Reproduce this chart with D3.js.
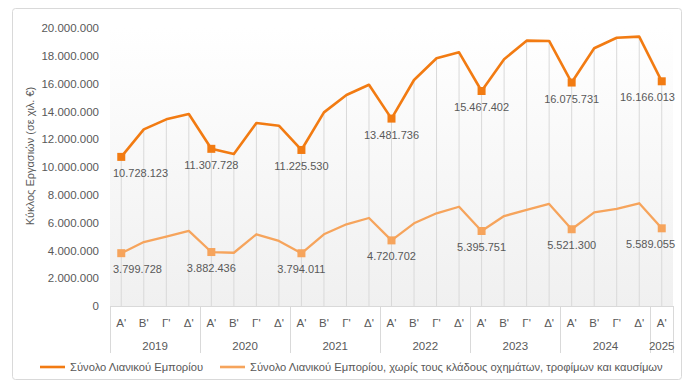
<!DOCTYPE html>
<html>
<head>
<meta charset="utf-8">
<script src="https://cdn.jsdelivr.net/npm/d3@7"></script>
<style>
  body { margin: 0; background: #fff; }
  text { font-family: "Liberation Sans", Arial, sans-serif; }
</style>
</head>
<body>
<div id="chart"></div>
<script>
// quarters and years on the category axis
var quarters = ["Α'", "Β'", "Γ'", "Δ'"];
var years = ["2019", "2020", "2021", "2022", "2023", "2024", "2025"];

// Σύνολο Λιανικού Εμπορίου (χιλ. €)
var totalRetail = [
    10728123, 12710000, 13430000, 13810000,
    11307728, 10940000, 13170000, 12970000,
    11225530, 13930000, 15180000, 15920000,
    13481736, 16260000, 17820000, 18250000,
    15467402, 17750000, 19090000, 19070000,
    16075731, 18540000, 19300000, 19380000,
    16166013
];

// Σύνολο Λιανικού Εμπορίου, χωρίς οχήματα, τρόφιμα και καύσιμα
var retailExcl = [
    3799728, 4600000, 4990000, 5400000,
    3882436, 3830000, 5160000, 4680000,
    3794011, 5160000, 5880000, 6330000,
    4720702, 5950000, 6670000, 7140000,
    5395751, 6470000, 6910000, 7340000,
    5521300, 6740000, 6980000, 7390000,
    5589055
];

var yTickValues = [0, 2000000, 4000000, 6000000, 8000000, 10000000,
                   12000000, 14000000, 16000000, 18000000, 20000000];

var seriesNames = ["Σύνολο Λιανικού Εμπορίου",
    "Σύνολο Λιανικού Εμπορίου, χωρίς τους κλάδους οχημάτων, τροφίμων και καυσίμων"];
var colors = ["#F27B12", "#F6A45C"];

createChart();

function createChart() {
    // build the categories (year + quarter)
    var cats = [];
    years.forEach(function(y) {
        quarters.forEach(function(q) {
            if (cats.length < totalRetail.length) cats.push({ year: y, q: q, key: y + q });
        });
    });

    var width = 700, height = 382;
    var plotLeft = 110, plotRight = 673, plotTop = 28, plotBottom = 306;

    var fmt = function(v) {
        return d3.format(",")(v).replace(/,/g, ".");
    };

    var svg = d3.select('#chart')
        .append('svg')
            .attr('width', width)
            .attr('height', height);

    // chart border
    svg.append('rect')
        .attr('x', 12.5).attr('y', 8.5)
        .attr('width', 669).attr('height', 371)
        .attr('rx', 3)
        .attr('fill', '#fff')
        .attr('stroke', '#d9d9d9');

    // plot background gradient
    var grad = svg.append('defs').append('linearGradient')
        .attr('id', 'bg').attr('x1', 0).attr('y1', 0).attr('x2', 0).attr('y2', 1);
    grad.append('stop').attr('offset', '0%').attr('stop-color', '#ffffff');
    grad.append('stop').attr('offset', '100%').attr('stop-color', '#f0f0f0');

    svg.append('rect')
        .attr('x', plotLeft).attr('y', plotTop)
        .attr('width', plotRight - plotLeft).attr('height', plotBottom - plotTop)
        .attr('fill', 'url(#bg)');

    var x = d3.scaleBand()
        .domain(cats.map(function(d) { return d.key; }))
        .range([plotLeft, plotRight]);

    var y = d3.scaleLinear()
        .domain([0, 20000000])
        .range([plotBottom, plotTop]);

    var cx = function(i) { return x(cats[i].key) + x.bandwidth() / 2; };

    // y axis (labels only)
    var yAxis = d3.axisLeft(y)
        .tickValues(yTickValues)
        .tickFormat(fmt)
        .tickSize(0)
        .tickPadding(11);

    var yg = svg.append('g')
        .attr('transform', 'translate(' + plotLeft + ',0)')
        .call(yAxis);
    yg.select('.domain').remove();
    yg.selectAll('text')
        .attr('fill', '#595959')
        .style('font-family', '"Liberation Sans", Arial, sans-serif')
        .style('font-size', '11.5px');

    // y axis title
    svg.append('text')
        .attr('transform', 'translate(34,156) rotate(-90)')
        .attr('text-anchor', 'middle')
        .attr('fill', '#595959')
        .style('font-size', '11px')
        .text('Κύκλος Εργασιών (σε χιλ. €)');

    // drop lines from the top series to the axis
    svg.append('g').selectAll('line')
        .data(totalRetail)
        .enter().append('line')
            .attr('x1', function(d, i) { return cx(i); })
            .attr('x2', function(d, i) { return cx(i); })
            .attr('y1', function(d) { return y(d); })
            .attr('y2', plotBottom)
            .attr('stroke', '#d9d9d9')
            .attr('stroke-width', 1);

    // category axis: baseline, group separators, labels
    svg.append('line')
        .attr('x1', plotLeft).attr('x2', plotRight)
        .attr('y1', plotBottom + 0.5).attr('y2', plotBottom + 0.5)
        .attr('stroke', '#d9d9d9');

    var groupBounds = [];
    years.forEach(function(yr) {
        var idx = cats.filter(function(c) { return c.year === yr; });
        var x0 = x(idx[0].key);
        var x1 = x(idx[idx.length - 1].key) + x.bandwidth();
        groupBounds.push({ year: yr, x0: x0, x1: x1 });
    });

    svg.append('g').selectAll('line')
        .data([plotLeft].concat(groupBounds.map(function(g) { return g.x1; })))
        .enter().append('line')
            .attr('x1', function(d) { return Math.round(d) + 0.5; })
            .attr('x2', function(d) { return Math.round(d) + 0.5; })
            .attr('y1', plotBottom)
            .attr('y2', 353)
            .attr('stroke', '#d9d9d9');

    svg.append('g').selectAll('text')
        .data(cats)
        .enter().append('text')
            .attr('x', function(d, i) { return cx(i); })
            .attr('y', 327)
            .attr('text-anchor', 'middle')
            .attr('fill', '#595959')
            .style('font-size', '11.5px')
            .text(function(d) { return d.q; });

    svg.append('g').selectAll('text')
        .data(groupBounds)
        .enter().append('text')
            .attr('x', function(d) { return (d.x0 + d.x1) / 2; })
            .attr('y', 350)
            .attr('text-anchor', 'middle')
            .attr('fill', '#595959')
            .style('font-size', '11.5px')
            .text(function(d) { return d.year; });

    // lines
    var line = d3.line()
        .x(function(d, i) { return cx(i); })
        .y(function(d) { return y(d); });

    [retailExcl, totalRetail].forEach(function(series, s) {
        var col = s === 1 ? colors[0] : colors[1];
        svg.append('path')
            .datum(series)
            .attr('fill', 'none')
            .attr('stroke', col)
            .attr('stroke-width', s === 1 ? 2.6 : 2.3)
            .attr('stroke-linejoin', 'round')
            .attr('d', line);

        var pts = series.map(function(v, i) { return { v: v, i: i }; })
            .filter(function(d) { return d.i % 4 === 0; });

        svg.append('g').selectAll('rect')
            .data(pts)
            .enter().append('rect')
                .attr('x', function(d) { return cx(d.i) - 4; })
                .attr('y', function(d) { return y(d.v) - 4; })
                .attr('width', 8)
                .attr('height', 8)
                .attr('fill', col);

        // data labels below markers, kept inside the plot area
        svg.append('g').selectAll('text')
            .data(pts)
            .enter().append('text')
                .attr('y', function(d) { return y(d.v) + 20; })
                .attr('text-anchor', 'middle')
                .attr('fill', '#595959')
                .style('font-size', '11px')
                .text(function(d) { return fmt(d.v); })
                .attr('x', function(d) {
                    var w = this.getComputedTextLength();
                    return Math.max(plotLeft + 3 + w / 2, Math.min(plotRight + 2 - w / 2, cx(d.i)));
                });
    });

    // legend
    var legend = svg.append('g');
    [[40, 70], [220, 250]].forEach(function(p, i) {
        legend.append('line')
            .attr('x1', p[0]).attr('x2', p[0] + 25)
            .attr('y1', 367).attr('y2', 367)
            .attr('stroke', colors[i])
            .attr('stroke-width', 2.6);
        legend.append('text')
            .attr('x', p[1])
            .attr('y', 371)
            .attr('fill', '#595959')
            .style('font-size', '11.2px')
            .text(seriesNames[i]);
    });
}
</script>
</body>
</html>
